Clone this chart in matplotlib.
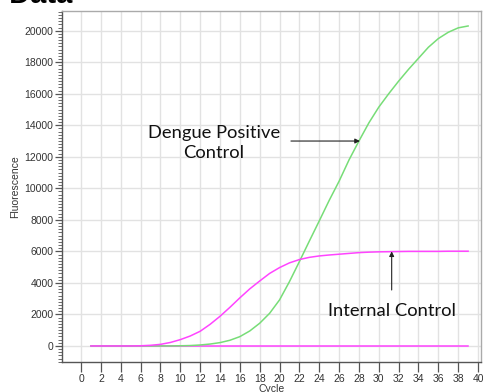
import numpy as np
import matplotlib
matplotlib.use("Agg")
import matplotlib.pyplot as plt
from matplotlib.ticker import MultipleLocator

cycles = list(range(1, 40))

# Dengue positive control (green)
dengue = [0, 0, 0, 0, 0, 0, 0, 0, 0, 10,
          25, 60, 120, 210, 360, 590, 950, 1440, 2070, 2920,
          4080, 5350, 6650, 7930, 9230, 10450, 11800, 13000, 14150, 15150,
          16000, 16800, 17550, 18250, 18950, 19500, 19900, 20180, 20300]

# Internal control (magenta)
internal = [0, 0, 0, 0, 0, 10, 40, 100, 220, 400,
            630, 930, 1370, 1880, 2450, 3050, 3620, 4120, 4600, 4970,
            5270, 5480, 5620, 5710, 5770, 5820, 5870, 5920, 5950, 5970,
            5980, 5990, 6000, 6000, 6000, 6000, 6010, 6010, 6010]

# negative sample, flat baseline (magenta)
negative = [0] * 39

xticks = list(range(0, 41, 2))
yticks = list(range(0, 20001, 2000))

W, H = 483, 392
fig = plt.figure(figsize=(W / 100, H / 100), dpi=100)
ax = fig.add_axes([61.7 / W, 1 - 361.7 / H, (481 - 61.7) / W, (361.7 - 11) / H])

ax.plot(cycles, negative, color="#ff44ff", lw=1.1, zorder=3)
ax.plot(cycles, dengue, color="#77dd77", lw=1.1, zorder=3)
ax.plot(cycles, internal, color="#ff44ff", lw=1.1, zorder=3)

ax.set_xlim(-1.95, 40.3)
ax.set_ylim(-1000, 21250)
ax.set_xticks(xticks)
ax.set_yticks(yticks)
ax.yaxis.set_minor_locator(MultipleLocator(200))
ax.grid(True, which="major", color="#e2e2e2", lw=1.0, zorder=0)
ax.set_axisbelow(True)

for s in ["left", "bottom"]:
    ax.spines[s].set_color("#555555")
    ax.spines[s].set_linewidth(1.0)
for s in ["top", "right"]:
    ax.spines[s].set_color("#aaaaaa")
    ax.spines[s].set_linewidth(1.0)

ax.tick_params(axis="x", which="major", length=7, width=0.9, color="#555555",
               labelcolor="#333333", pad=1.5)
ax.tick_params(axis="y", which="major", length=5, width=0.9, color="#555555",
               labelcolor="#333333", pad=1)
ax.tick_params(axis="y", which="minor", length=3, width=0.6, color="#555555")
for lab in ax.get_xticklabels() + ax.get_yticklabels():
    lab.set_fontfamily("Liberation Sans")
    lab.set_fontsize(7.5)

ax.set_xlabel("Cycle", fontfamily="Liberation Sans", fontsize=7.5,
              color="#333333", labelpad=0)
ax.set_ylabel("Fluorescence", fontfamily="Liberation Sans", fontsize=7.5,
              color="#333333", labelpad=3)

# annotations
ax.text(13.4, 12900, "Dengue Positive\nControl", ha="center", va="center",
        fontfamily="Lato", fontsize=13.2, color="#111111", linespacing=1.3)
ax.annotate("", xy=(28.1, 13000), xytext=(21.15, 13000),
            arrowprops=dict(arrowstyle="-|>", color="#222222", lw=0.8,
                            mutation_scale=7, shrinkA=0, shrinkB=0))
ax.text(31.3, 2240, "Internal Control", ha="center", va="center",
        fontfamily="Lato", fontsize=13.2, color="#111111")
ax.annotate("", xy=(31.3, 6000), xytext=(31.3, 3550),
            arrowprops=dict(arrowstyle="-|>", color="#222222", lw=0.8,
                            mutation_scale=7, shrinkA=0, shrinkB=0))

# cropped heading at the top edge
fig.text(72 / W, 1 - 3 / H, "Experimental Data", ha="right", va="baseline",
         fontfamily="Liberation Sans", fontweight="bold", fontsize=21,
         color="black")

fig.savefig("out.png", dpi=100)
